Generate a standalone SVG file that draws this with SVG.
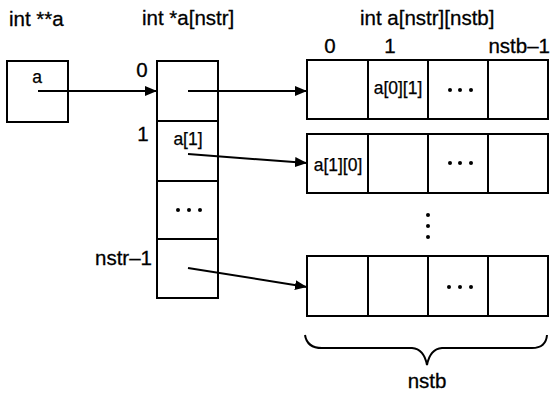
<svg xmlns="http://www.w3.org/2000/svg" width="552" height="393" viewBox="0 0 552 393">
<style>
.box{fill:#fff;stroke:#000;stroke-width:2}
.ln{fill:none;stroke:#000;stroke-width:2}
.t{font-family:"Liberation Sans",Arial,sans-serif;font-size:20.5px;fill:#000;stroke:#000;stroke-width:0.3}
.c{font-family:"Liberation Sans",Arial,sans-serif;font-size:17.5px;fill:#000;stroke:#000;stroke-width:0.25}
.dot{fill:#000}
</style>
<defs>
<marker id="ah" viewBox="0 0 12 10" refX="12" refY="5" markerWidth="12" markerHeight="10" markerUnits="userSpaceOnUse" orient="auto">
<path d="M0,0 L12,5 L0,10 Z" fill="#000"/>
</marker>
</defs>
<rect width="552" height="393" fill="#fff"/>
<g id="titles">
<text class="t" x="9" y="26">int **a</text>
<text class="t" x="142" y="25">int *a[nstr]</text>
<text class="t" x="360" y="25">int a[nstr][nstb]</text>
<text class="t" x="330" y="53" text-anchor="middle">0</text>
<text class="t" x="390" y="53" text-anchor="middle">1</text>
<text class="t" x="550" y="53" text-anchor="end">nstb–1</text>
</g>
<g id="ptr">
<rect class="box" x="7" y="61" width="61" height="61"/>
<text class="c" x="37" y="83" text-anchor="middle">a</text>
</g>
<g id="column">
<rect class="box" x="157" y="61" width="61" height="237"/>
<line class="ln" x1="157" y1="121" x2="218" y2="121"/>
<line class="ln" x1="157" y1="181" x2="218" y2="181"/>
<line class="ln" x1="157" y1="239" x2="218" y2="239"/>
<text class="t" x="142" y="77" text-anchor="middle">0</text>
<text class="t" x="143" y="141" text-anchor="middle">1</text>
<text class="t" x="152" y="265" text-anchor="end">nstr–1</text>
<text class="c" x="188" y="145" text-anchor="middle">a[1]</text>
<circle class="dot" cx="178" cy="210" r="2"/>
<circle class="dot" cx="189" cy="210" r="2"/>
<circle class="dot" cx="200" cy="210" r="2"/>
</g>
<g id="row0">
<rect class="box" x="307" y="60" width="241" height="59"/>
<line class="ln" x1="368" y1="60" x2="368" y2="119"/>
<line class="ln" x1="428" y1="60" x2="428" y2="119"/>
<line class="ln" x1="488" y1="60" x2="488" y2="119"/>
<text class="c" x="398" y="94" text-anchor="middle">a[0][1]</text>
<circle class="dot" cx="450" cy="90" r="2"/>
<circle class="dot" cx="460" cy="90" r="2"/>
<circle class="dot" cx="471" cy="90" r="2"/>
</g>
<g id="row1">
<rect class="box" x="307" y="134" width="241" height="59"/>
<line class="ln" x1="368" y1="134" x2="368" y2="193"/>
<line class="ln" x1="428" y1="134" x2="428" y2="193"/>
<line class="ln" x1="488" y1="134" x2="488" y2="193"/>
<text class="c" x="338" y="171" text-anchor="middle">a[1][0]</text>
<circle class="dot" cx="450" cy="163" r="2"/>
<circle class="dot" cx="460" cy="163" r="2"/>
<circle class="dot" cx="471" cy="163" r="2"/>
</g>
<g id="vdots">
<circle class="dot" cx="428" cy="215" r="2"/>
<circle class="dot" cx="428" cy="226" r="2"/>
<circle class="dot" cx="428" cy="237" r="2"/>
</g>
<g id="row2">
<rect class="box" x="307" y="256" width="241" height="60"/>
<line class="ln" x1="368" y1="256" x2="368" y2="316"/>
<line class="ln" x1="428" y1="256" x2="428" y2="316"/>
<line class="ln" x1="488" y1="256" x2="488" y2="316"/>
<circle class="dot" cx="449" cy="287" r="2"/>
<circle class="dot" cx="460" cy="287" r="2"/>
<circle class="dot" cx="471" cy="287" r="2"/>
</g>
<g id="brace">
<path class="ln" d="M305,335 Q307,348 322,348 L412,348 Q424,349 427,365 Q430,349 442,348 L532,348 Q546,348 547,335"/>
<text class="t" x="427" y="388" text-anchor="middle">nstb</text>
</g>
<g id="connectors">
<line class="ln" x1="38" y1="91" x2="157" y2="91" marker-end="url(#ah)"/>
<line class="ln" x1="188" y1="91" x2="307" y2="91" marker-end="url(#ah)"/>
<line class="ln" x1="188" y1="154" x2="307" y2="163" marker-end="url(#ah)"/>
<line class="ln" x1="188" y1="268" x2="307" y2="287" marker-end="url(#ah)"/>
</g>
</svg>
